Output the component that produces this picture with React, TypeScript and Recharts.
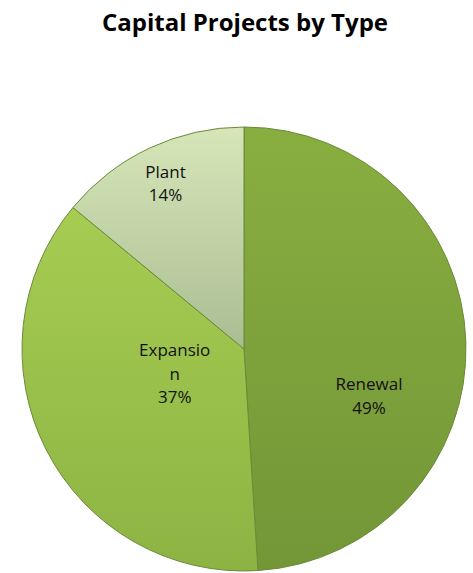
import { PieChart, Pie, Cell } from "recharts";

const categories = ["Renewal", "Expansion", "Plant"];
const shares = [49, 37, 14];
// how Excel wrapped the label text
const labelLines = [["Renewal"], ["Expansio", "n"], ["Plant"]];

const data = categories.map((name, i) => ({ name, value: shares[i] }));

const GRADIENTS = [
  { id: "gRenewal", top: "#89ae40", bottom: "#739637" },
  { id: "gExpansion", top: "#a6cc52", bottom: "#8db443" },
  { id: "gPlant", top: "#d6e6b9", bottom: "#aabd92" },
];

// label placement: fraction of radius and angle shift (deg)
const LABEL_POS = [
  { r: 0.6, shift: -22 },
  { r: 0.33, shift: -8 },
  { r: 0.83, shift: 0 },
];

const RAD = Math.PI / 180;

const renderLabel = (props: any) => {
  const { cx, cy, midAngle, outerRadius, index, value } = props;
  const pos = LABEL_POS[index];
  const a = (midAngle + pos.shift) * RAD;
  const x = cx + outerRadius * pos.r * Math.cos(-a);
  const y = cy + outerRadius * pos.r * Math.sin(-a);
  const lines = [...labelLines[index], `${value}%`];
  const lh = 23.5;
  const y0 = y - ((lines.length - 1) * lh) / 2;
  return (
    <text
      x={x}
      y={y0}
      textAnchor="middle"
      dominantBaseline="central"
      fill="#111"
      fontSize={17}
      fontFamily="'Open Sans', sans-serif"
    >
      {lines.map((l, k) => (
        <tspan key={k} x={x} y={y0 + k * lh}>
          {l}
        </tspan>
      ))}
    </text>
  );
};

export default function App() {
  return (
    <div
      style={{
        position: "absolute",
        left: 0,
        top: 0,
        width: 473,
        height: 573,
        background: "#fff",
        overflow: "hidden",
      }}
    >
      <div
        style={{
          position: "absolute",
          top: 6,
          left: 0,
          width: 490,
          textAlign: "center",
          fontFamily: "'Open Sans', sans-serif",
          fontWeight: 700,
          fontSize: 24,
          color: "#000",
          lineHeight: "32px",
        }}
      >
        Capital Projects by Type
      </div>
      <PieChart width={473} height={573}>
        <defs>
          {GRADIENTS.map((g) => (
            <linearGradient key={g.id} id={g.id} x1="0" y1="0" x2="0" y2="1">
              <stop offset="0%" stopColor={g.top} />
              <stop offset="100%" stopColor={g.bottom} />
            </linearGradient>
          ))}
        </defs>
        <Pie
          data={data}
          dataKey="value"
          nameKey="name"
          cx={239}
          cy={344}
          outerRadius={222}
          startAngle={90}
          endAngle={-270}
          stroke="#6a8a38"
          strokeWidth={1}
          labelLine={false}
          label={renderLabel}
          isAnimationActive={false}
        >
          {data.map((entry, index) => (
            <Cell key={`cell-${index}`} fill={`url(#${GRADIENTS[index].id})`} />
          ))}
        </Pie>
      </PieChart>
    </div>
  );
}
